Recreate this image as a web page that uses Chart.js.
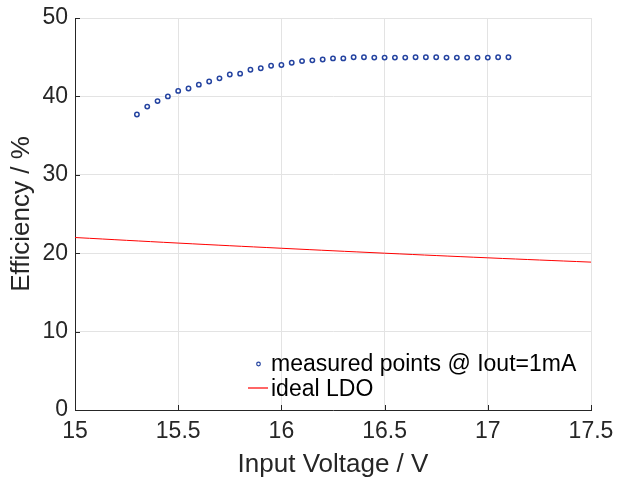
<!DOCTYPE html>
<html>
<head>
<meta charset="utf-8">
<script src="https://cdn.jsdelivr.net/npm/chart.js@4"></script>
<style>
  html, body { margin: 0; padding: 0; background: #fff; }
  #wrap { width: 617px; height: 481px; }
</style>
</head>
<body>
<div id="wrap"><canvas id="effChart" width="617" height="481"></canvas></div>
<script>
const vinMeasured = [15.30, 15.35, 15.40, 15.45, 15.50, 15.55, 15.60, 15.65, 15.70, 15.75,
                     15.80, 15.85, 15.90, 15.95, 16.00, 16.05, 16.10, 16.15, 16.20, 16.25,
                     16.30, 16.35, 16.40, 16.45, 16.50, 16.55, 16.60, 16.65, 16.70, 16.75,
                     16.80, 16.85, 16.90, 16.95, 17.00, 17.05, 17.10];
const effMeasured = [37.7, 38.7, 39.4, 40.0, 40.7, 41.0, 41.5, 41.9, 42.3, 42.8,
                     42.9, 43.4, 43.6, 43.9, 44.0, 44.3, 44.5, 44.6, 44.7, 44.85,
                     44.85, 45.0, 45.0, 44.95, 44.95, 44.95, 44.95, 45.0, 45.0, 45.0,
                     44.95, 44.95, 44.95, 44.95, 44.95, 45.0, 45.0];

// Ideal LDO line
const vinIdeal = [15.0, 15.5, 16.0, 16.5, 17.0, 17.5];
const effIdeal = [22.0, 21.29, 20.63, 20.0, 19.41, 18.86];

const xTicks = [15, 15.5, 16, 16.5, 17, 17.5];
const yTicks = [0, 10, 20, 30, 40, 50];

const FONT = 'Liberation Sans, Arial, Helvetica, sans-serif';
const AXIS = '#262626';
const BLUE = '#2443a0';
const RED = '#ff0000';

// MATLAB-style inward tick marks
const innerTicks = {
    id: 'innerTicks',
    afterDatasetsDraw(chart) {
        const { ctx, chartArea: a, scales: { x, y } } = chart;
        ctx.save();
        ctx.strokeStyle = AXIS;
        ctx.lineWidth = 1;
        ctx.beginPath();
        xTicks.forEach(v => {
            const px = Math.round(x.getPixelForValue(v)) + 0.5;
            ctx.moveTo(px, a.bottom);
            ctx.lineTo(px, a.bottom - 5);
        });
        yTicks.forEach(v => {
            const py = Math.round(y.getPixelForValue(v)) + 0.5;
            ctx.moveTo(a.left, py);
            ctx.lineTo(a.left + 5, py);
        });
        ctx.stroke();
        ctx.restore();
    }
};

// legend drawn inside the axes, lower right, no box
const innerLegend = {
    id: 'innerLegend',
    afterDraw(chart) {
        const { ctx } = chart;
        const ds = chart.data.datasets;
        ctx.save();
        ctx.font = '23px ' + FONT;
        ctx.textBaseline = 'middle';
        ctx.textAlign = 'left';
        // row 1: marker
        ctx.beginPath();
        ctx.arc(258.5, 364, 1.8, 0, Math.PI * 2);
        ctx.fillStyle = '#fff';
        ctx.fill();
        ctx.strokeStyle = BLUE;
        ctx.lineWidth = 1.2;
        ctx.stroke();
        ctx.fillStyle = '#000';
        ctx.fillText(ds[0].label, 271, 365);
        ctx.fillText(ds[1].label, 271, 390);
        // row 2: line
        ctx.beginPath();
        ctx.moveTo(248, 388);
        ctx.lineTo(268, 388);
        ctx.strokeStyle = RED;
        ctx.lineWidth = 1.2;
        ctx.stroke();
        ctx.restore();
    }
};

const ctx = document.getElementById('effChart').getContext('2d');
new Chart(ctx, {
    type: 'scatter',
    data: {
        datasets: [
            {
                label: 'measured points @ Iout=1mA',
                data: vinMeasured.map((v, i) => ({ x: v, y: effMeasured[i] })),
                borderColor: BLUE,
                backgroundColor: '#ffffff',
                pointRadius: 2.2,
                pointBorderWidth: 1.5,
                showLine: false
            },
            {
                label: 'ideal LDO',
                data: vinIdeal.map((v, i) => ({ x: v, y: effIdeal[i] })),
                borderColor: RED,
                backgroundColor: RED,
                borderWidth: 1,
                pointRadius: 0,
                showLine: true,
                tension: 0.4
            }
        ]
    },
    options: {
        responsive: false,
        animation: false,
        layout: { padding: { top: 18, right: 26, left: 0, bottom: 0 } },
        plugins: {
            legend: { display: false },
            tooltip: { enabled: false }
        },
        scales: {
            x: {
                type: 'linear',
                min: 15,
                max: 17.5,
                afterFit: s => { s.height = 71; s.paddingLeft = 0; s.paddingRight = 0; },
                afterBuildTicks: s => { s.ticks = xTicks.map(v => ({ value: v })); },
                grid: { color: '#e3e3e3', lineWidth: 1, drawTicks: false },
                border: { display: true, color: AXIS, width: 1 },
                ticks: {
                    color: AXIS,
                    padding: 8,
                    font: { family: FONT, size: 23 },
                    maxRotation: 0,
                    callback: v => String(v)
                },
                title: {
                    display: true,
                    text: 'Input Voltage / V',
                    color: AXIS,
                    font: { family: FONT, size: 26 },
                    padding: { top: 0, bottom: 1 }
                }
            },
            y: {
                type: 'linear',
                min: 0,
                max: 50,
                afterFit: s => { s.width = 75; s.paddingTop = 0; s.paddingBottom = 0; },
                afterBuildTicks: s => { s.ticks = yTicks.map(v => ({ value: v })); },
                grid: { color: '#e3e3e3', lineWidth: 1, drawTicks: false },
                border: { display: true, color: AXIS, width: 1 },
                ticks: {
                    color: AXIS,
                    padding: 7,
                    font: { family: FONT, size: 23 },
                    callback: v => String(v)
                },
                title: {
                    display: true,
                    text: 'Efficiency / %',
                    color: AXIS,
                    font: { family: FONT, size: 26 },
                    padding: { top: 6, bottom: 0 }
                }
            }
        }
    },
    plugins: [innerTicks, innerLegend]
});
</script>
</body>
</html>
